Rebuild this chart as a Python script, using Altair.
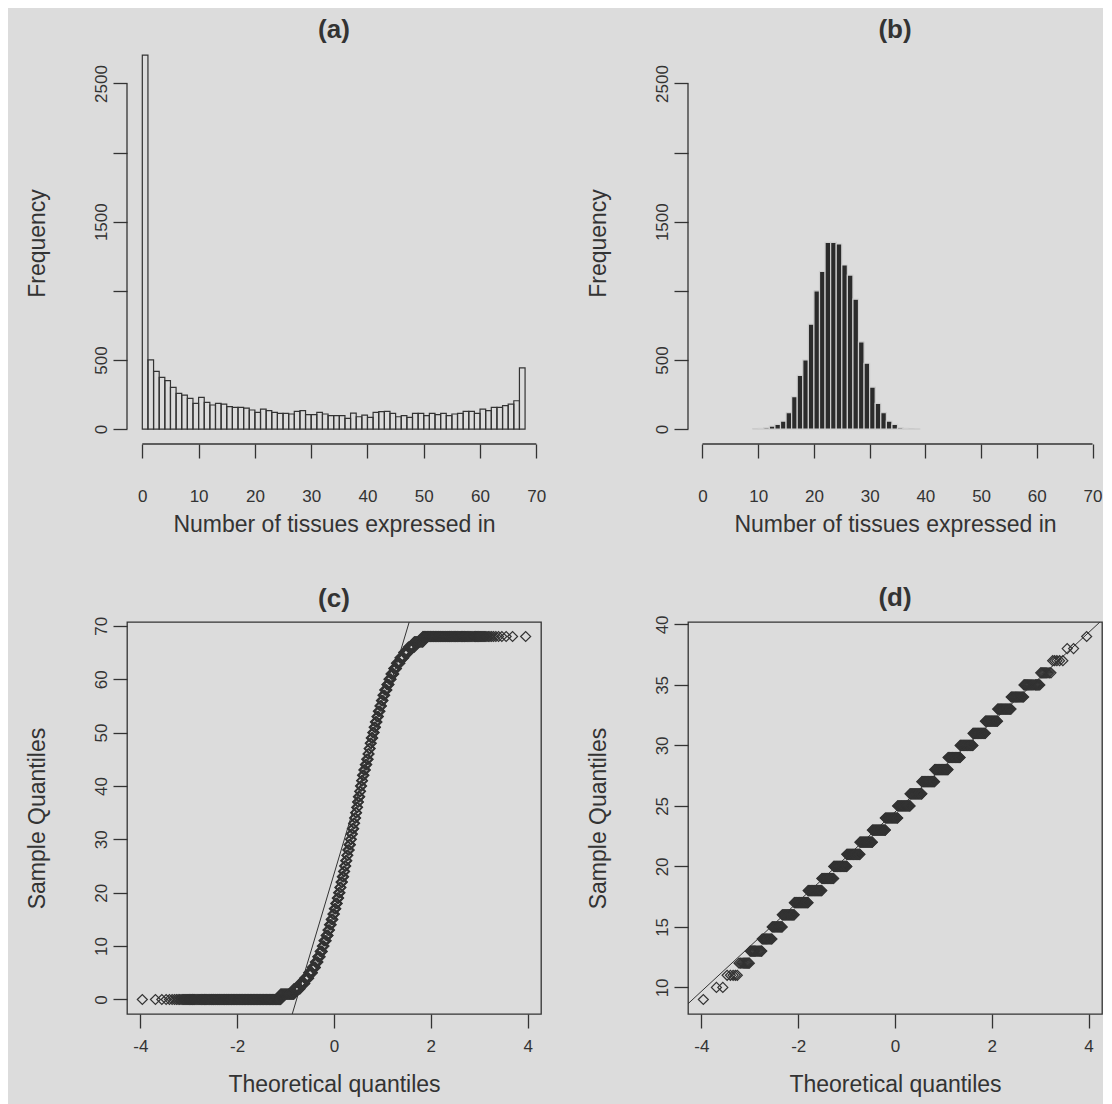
import altair as alt
import pandas as pd
import numpy as np
from statistics import NormalDist

# ---------------- data ----------------
# panel (a)/(c): number of genes expressed in k tissues, k = 0..68
tissues_a = list(range(0, 69))
genes_a = [1800, 905, 500, 418, 374, 350, 302, 258, 246, 222, 186, 229, 193, 174,
           186, 181, 162, 157, 157, 152, 138, 121, 145, 133, 121, 114, 114, 109,
           128, 133, 104, 104, 121, 109, 97, 97, 97, 77, 116, 89, 101, 85, 121,
           126, 128, 114, 89, 97, 85, 114, 114, 97, 114, 104, 114, 97, 109, 114,
           128, 128, 114, 145, 133, 157, 157, 169, 181, 205, 442]
# panel (b)/(d): randomised data, k = 9..39
tissues_b = list(range(9, 40))
genes_b = [1, 2, 5, 10, 22, 34, 58, 118, 234, 389, 500, 759, 1000, 1141, 1351,
           1351, 1339, 1187, 1114, 940, 631, 476, 304, 186, 118, 58, 34, 10, 5, 2, 1]

hist_x_ticks = [0, 10, 20, 30, 40, 50, 60, 70]
hist_y_ticks = [0, 500, 1000, 1500, 2000, 2500]
hist_y_shown = [0, 500, 1500, 2500]
qq_x_ticks = [-4, -2, 0, 2, 4]
qq_c_y_ticks = [0, 10, 20, 30, 40, 50, 60, 70]
qq_d_y_ticks = [10, 15, 20, 25, 30, 35, 40]

titles = ["(a)", "(b)", "(c)", "(d)"]
hist_xlabel = "Number of tissues expressed in"
hist_ylabel = "Frequency"
qq_xlabel = "Theoretical quantiles"
qq_ylabel = "Sample Quantiles"

# ---------------- styling ----------------
BG = "#dcdcdc"
INK = "#333333"
FONT = "Liberation Sans"
LABEL_SIZE = 17
TITLE_SIZE = 23
W = 414
H_TOP = 402
H_BOT = 392
nd = NormalDist()


def hist_bins(values, counts):
    """R hist() with breaks = min:max (right closed, include.lowest)."""
    lo, hi = min(values), max(values)
    rows = []
    for k in range(lo, hi):
        if k == lo:
            c = counts[0] + counts[1]
        else:
            c = counts[values.index(k + 1)]
        rows.append({"start": k, "end": k + 1, "count": c})
    return pd.DataFrame(rows)


def qq_points(values, counts, min_dx=0.012):
    n = sum(counts)
    rows = []
    i = 0
    for v, c in zip(values, counts):
        last = None
        for j in range(c):
            i += 1
            q = nd.inv_cdf((i - 0.5) / n)
            if last is None or j == c - 1 or q - last >= min_dx:
                rows.append({"theoretical": q, "sample": v})
                last = q
    return pd.DataFrame(rows)


def qq_line(values, counts, xlo, xhi):
    data = np.repeat(values, counts)
    q1, q3 = np.quantile(data, [0.25, 0.75])
    z1, z3 = nd.inv_cdf(0.25), nd.inv_cdf(0.75)
    slope = (q3 - q1) / (z3 - z1)
    inter = q1 - slope * z1
    return pd.DataFrame({"theoretical": [xlo, xhi],
                         "sample": [inter + slope * xlo, inter + slope * xhi]})


def axis(values, title, angle=0, label_expr=None, tpad=8, lpad=3):
    kw = dict(values=values, title=title, domain=False, grid=False, tickSize=14,
              tickColor=INK, tickWidth=1.3, labelColor=INK, labelFont=FONT,
              labelFontSize=LABEL_SIZE, titleFont=FONT, titleFontSize=TITLE_SIZE,
              titleFontWeight="normal", titleColor=INK, titlePadding=tpad,
              labelPadding=lpad, labelFlush=False, labelOverlap=False)
    if angle:
        kw.update(labelAngle=angle, labelAlign="center", labelBaseline="bottom")
    kw["labelExpr"] = label_expr if label_expr else "'' + datum.value"
    return alt.Axis(**kw)


def panel_title(t, off):
    return alt.Title(t, font=FONT, fontSize=26, fontWeight="bold", color=INK,
                     offset=off, anchor="middle")


def hist_panel(values, counts, title, xdom, fill, stroke):
    df = hist_bins(values, counts)
    ydom = [-108, 2800]
    yexpr = "indexof([" + ",".join(str(v) for v in hist_y_shown) + "], datum.value) >= 0 ? '' + datum.value : ''"
    xs = alt.Scale(domain=xdom, nice=False, zero=False)
    ys = alt.Scale(domain=ydom, nice=False, zero=False)
    bars = alt.Chart(df).mark_rect(fill=fill, stroke=stroke, strokeWidth=1.2, clip=False).encode(
        x=alt.X("start:Q", scale=xs, axis=axis(hist_x_ticks, hist_xlabel, tpad=9, lpad=30)),
        x2="end:Q",
        y=alt.Y("count:Q", scale=ys, axis=axis(hist_y_ticks, hist_ylabel, angle=270,
                                                label_expr=yexpr, tpad=43)),
        y2=alt.datum(0),
    )
    one = pd.DataFrame({"k": [0]})
    xrule = alt.Chart(one).mark_rule(color=INK, strokeWidth=1.3).encode(
        x=alt.datum(min(hist_x_ticks)), x2=alt.datum(max(hist_x_ticks)), y=alt.value(H_TOP))
    yrule = alt.Chart(one).mark_rule(color=INK, strokeWidth=1.3).encode(
        y=alt.datum(min(hist_y_ticks)), y2=alt.datum(max(hist_y_ticks)), x=alt.value(0))
    return alt.layer(bars, xrule, yrule).properties(
        width=W, height=H_TOP, title=panel_title(title, -1))


def qq_panel(values, counts, title, ydom, yticks):
    pts = qq_points(values, counts)
    n = sum(counts)
    qmin = nd.inv_cdf(0.5 / n)
    ext = (2 * -qmin) * 0.04
    xdom = [qmin - ext, -qmin + ext]
    line = qq_line(values, counts, xdom[0], xdom[1])
    xs = alt.Scale(domain=xdom, nice=False, zero=False)
    ys = alt.Scale(domain=ydom, nice=False, zero=False)
    p = alt.Chart(pts).mark_point(shape="diamond", filled=False, size=100,
                                  strokeWidth=1.2, color=INK, opacity=1).encode(
        x=alt.X("theoretical:Q", scale=xs, axis=axis(qq_x_ticks, qq_xlabel, tpad=19, lpad=10)),
        y=alt.Y("sample:Q", scale=ys, axis=axis(yticks, qq_ylabel, angle=270, tpad=43)),
    )
    l = alt.Chart(line).mark_line(color=INK, strokeWidth=1, clip=True).encode(
        x="theoretical:Q", y="sample:Q")
    return alt.layer(p, l).properties(
        width=W, height=H_BOT, title=panel_title(title, 4),
        view=alt.ViewBackground(stroke=INK, strokeWidth=1.3))


pa = hist_panel(tissues_a, genes_a, titles[0], [-2.72, 70.83], "transparent", INK)
pb = hist_panel(tissues_b, genes_b, titles[1], [-2.6, 71.7], "#2b2b2b", "#cfcfcf")
pc = qq_panel(tissues_a, genes_a, titles[2], [-2.72, 70.72], qq_c_y_ticks)
pd_ = qq_panel(tissues_b, genes_b, titles[3], [7.8, 40.2], qq_d_y_ticks)

chart = alt.concat(pa, pb, pc, pd_, columns=2).properties(
    spacing={"row": 178, "column": 147},
    bounds="flush",
    align="each",
    padding={"left": 17, "top": 9, "right": 0, "bottom": 18},
    background=BG,
).resolve_scale(x="independent", y="independent").configure_view(strokeWidth=0)

chart.save("out.html", embed_options={"renderer": "svg", "actions": False})
